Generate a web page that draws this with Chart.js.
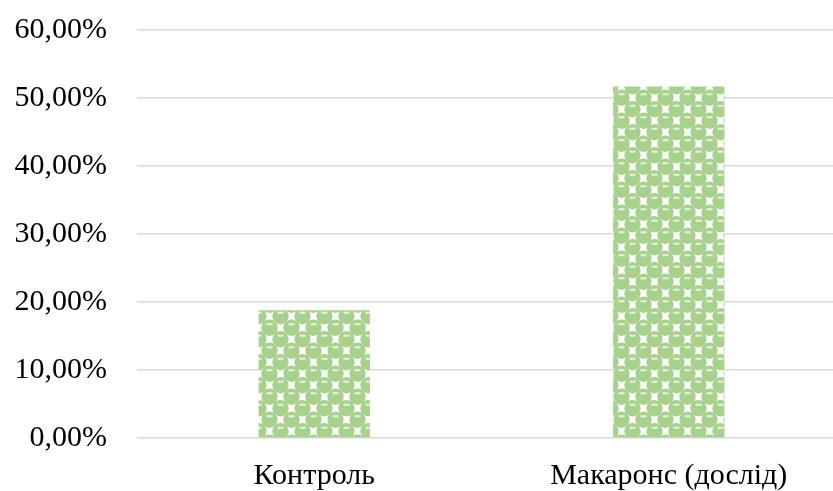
<!DOCTYPE html>
<html>
<head>
<meta charset="utf-8">
<script src="https://cdn.jsdelivr.net/npm/chart.js@4"></script>
<style>
  html, body { margin: 0; padding: 0; background: #ffffff; overflow: hidden; }
  #wrap { width: 846px; height: 491px; }
</style>
</head>
<body>
<div id="wrap"><canvas id="chart" width="846" height="491"></canvas></div>
<script>
// Share of respondents per group
const categories = ['Контроль', 'Макаронс (дослід)'];
const shares = [18.8, 51.7];
const yTicks = [0, 10, 20, 30, 40, 50, 60];

const FONT = { family: '"Liberation Serif", "Times New Roman", serif', size: 30 };

// Green sphere pattern used as bar fill
function spherePattern() {
  const tw = 22, th = 23;
  const c = document.createElement('canvas');
  c.width = tw; c.height = th;
  const g = c.getContext('2d');
  g.fillStyle = '#ffffff';
  g.fillRect(0, 0, tw, th);
  const spheres = [];
  const gaps = [];
  for (let dx = -1; dx <= 1; dx++) {
    for (let dy = -1; dy <= 1; dy++) {
      spheres.push([5.5 + dx * tw, 5.75 + dy * th]);
      spheres.push([16.5 + dx * tw, 17.25 + dy * th]);
      gaps.push([16.5 + dx * tw, 5.75 + dy * th]);
      gaps.push([5.5 + dx * tw, 17.25 + dy * th]);
    }
  }
  g.fillStyle = '#a9d18e';
  spheres.forEach(([x, y]) => { g.beginPath(); g.arc(x, y, 8.2, 0, Math.PI * 2); g.fill(); });
  g.fillStyle = '#ffffff';
  gaps.forEach(([x, y]) => { g.fillRect(x - 2.6, y - 2.6, 5.2, 5.2); });
  g.fillStyle = '#e6f3de';
  spheres.forEach(([x, y]) => { g.fillRect(x - 3, y - 4.5, 6, 2); });
  return document.getElementById('chart').getContext('2d').createPattern(c, 'repeat');
}

new Chart(document.getElementById('chart'), {
  type: 'bar',
  data: {
    labels: categories,
    datasets: [{
      data: shares,
      backgroundColor: spherePattern(),
      borderWidth: 0,
      categoryPercentage: 1,
      barPercentage: 0.314
    }]
  },
  options: {
    responsive: false,
    animation: false,
    layout: { padding: { top: 30, left: 0, right: 0, bottom: 0 } },
    plugins: { legend: { display: false }, tooltip: { enabled: false } },
    scales: {
      x: {
        grid: { display: false },
        border: { display: false },
        ticks: { color: '#000000', font: FONT, padding: 12 },
        afterFit: s => { s.height = 53; }
      },
      y: {
        min: 0,
        max: 60,
        afterBuildTicks: s => { s.ticks = yTicks.map(v => ({ value: v })); },
        grid: { color: '#d9d9d9', lineWidth: 1.5, tickLength: 0, drawTicks: false },
        border: { display: false },
        ticks: {
          color: '#000000',
          font: FONT,
          padding: 30,
          callback: v => v.toFixed(2).replace('.', ',') + '%'
        },
        afterFit: s => {
          s.width = 137;
          s.paddingTop = 0;
          s.paddingBottom = 0;
        }
      }
    }
  }
});
</script>
</body>
</html>
